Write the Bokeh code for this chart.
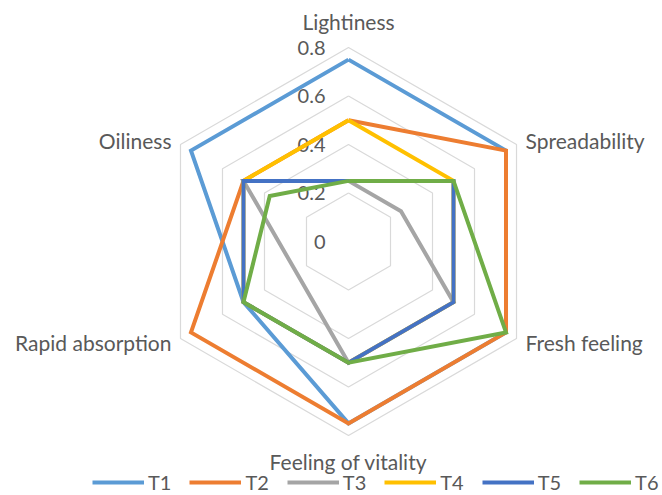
import numpy as np
from bokeh.plotting import figure
from bokeh.models import Range1d, Legend, LegendItem
from bokeh.embed import file_html
from bokeh.resources import INLINE
from bokeh.core.properties import value

# ---- data ----
categories = ["Lightiness", "Spreadability", "Fresh feeling",
              "Feeling of vitality", "Rapid absorption", "Oiliness"]
series_names = ["T1", "T2", "T3", "T4", "T5", "T6"]
t1 = [0.75, 0.75, 0.75, 0.75, 0.50, 0.75]
t2 = [0.50, 0.75, 0.75, 0.75, 0.75, 0.50]
t3 = [0.25, 0.25, 0.50, 0.50, 0.25, 0.50]
t4 = [0.50, 0.50, 0.50, 0.50, 0.50, 0.50]
t5 = [0.25, 0.50, 0.50, 0.50, 0.50, 0.50]
t6 = [0.25, 0.50, 0.75, 0.50, 0.50, 0.375]
tick_values = [0, 0.2, 0.4, 0.6, 0.8]
tick_labels = ["0", "0.2", "0.4", "0.6", "0.8"]
colors = ["#5B9BD5", "#ED7D31", "#A5A5A5", "#FFC000", "#4472C4", "#70AD47"]

# ---- layout ----
W, H = 662, 495
S = 242.5            # pixels per data unit
CX, CY = 348, 241    # centre in picture pixels
FONT = "Lato"
TXT = "#595959"

p = figure(width=W, height=H, output_backend="svg", toolbar_location=None,
           x_axis_type=None, y_axis_type=None, min_border=0,
           x_range=Range1d(-CX / S, (W - CX) / S),
           y_range=Range1d(-(H - CY) / S, CY / S))
p.outline_line_color = None
p.grid.visible = False
p.background_fill_color = "white"
p.border_fill_color = "white"

n = len(categories)
theta = np.pi / 2 - np.arange(n) * 2 * np.pi / n
rmax = max(tick_values)

# grid rings
for r in tick_values[1:]:
    xs = list(r * np.cos(theta)) + [r * np.cos(theta[0])]
    ys = list(r * np.sin(theta)) + [r * np.sin(theta[0])]
    p.line(xs, ys, line_color="#D9D9D9", line_width=1.2)

# tick labels
p.text(x=[-23 / S] * len(tick_values), y=tick_values, text=tick_labels,
       text_font=value(FONT), text_font_size="20px", text_color=TXT,
       text_align="right", text_baseline="middle")

# category labels
for k, cat in enumerate(categories):
    cx, cy = rmax * np.cos(theta[k]), rmax * np.sin(theta[k])
    if abs(cx) < 1e-9:
        align = "center"
        ly = cy + np.sign(cy) * 26 / S
        lx = cx
    else:
        align = "left" if cx > 0 else "right"
        lx = cx + np.sign(cx) * 9 / S
        ly = cy + np.sign(cy) * 4 / S
    p.text(x=[lx], y=[ly], text=[cat], text_font=value(FONT),
           text_font_size="21px", text_color=TXT, text_align=align,
           text_baseline="middle")

# series
items = []
for name, vals, col in zip(series_names, [t1, t2, t3, t4, t5, t6], colors):
    v = np.array(vals)
    xs = list(v * np.cos(theta)) + [v[0] * np.cos(theta[0])]
    ys = list(v * np.sin(theta)) + [v[0] * np.sin(theta[0])]
    r = p.line(xs, ys, line_color=col, line_width=4, line_join="miter")
    items.append(LegendItem(label=name, renderers=[r]))

legend = Legend(items=items, orientation="horizontal", location=(92, 1),
                border_line_color=None, background_fill_alpha=0,
                padding=0, margin=0, spacing=18, label_standoff=4,
                glyph_width=52, glyph_height=20, label_height=20,
                label_text_font=FONT, label_text_font_size="20px",
                label_text_color=TXT)
p.add_layout(legend)

open("out.html", "w").write(file_html(p, INLINE))
